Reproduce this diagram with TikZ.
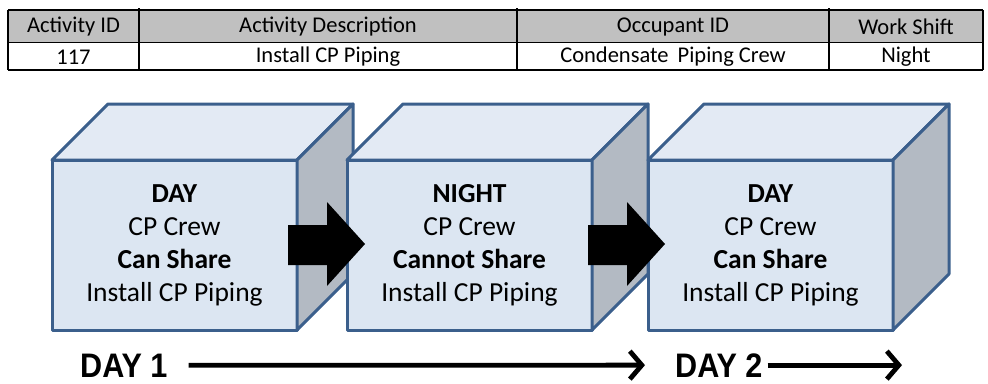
\documentclass[tikz,border=0pt]{standalone}
\usepackage{fontspec}
\setmainfont{Carlito}
\newfontfamily\arialfam[FakeStretch=0.9]{Liberation Sans}
\usetikzlibrary{arrows.meta}
\definecolor{bordc}{HTML}{3B5F8C}
\definecolor{frontc}{HTML}{DCE6F2}
\definecolor{topc}{HTML}{E3EAF4}
\definecolor{sidec}{HTML}{B3BAC3}
\definecolor{hdrgray}{HTML}{C0C0C0}
\tikzset{
  tcell/.style={inner sep=0pt, font=\fontsize{22.5}{24}\selectfont},
  tline/.style={line width=1.5pt, black},
  front/.style={draw=bordc, fill=frontc, line width=3pt, line join=round, minimum width=245pt, minimum height=170pt, inner sep=0pt, outer sep=0pt, align=center, font=\fontsize{27.5}{33}\selectfont},
  topface/.style={draw=bordc, fill=topc, line width=3pt, line join=round},
  sideface/.style={draw=bordc, fill=sidec, line width=3pt, line join=round},
  bigarrow/.style={fill=black},
  daylbl/.style={inner sep=0pt, text depth=0pt, font=\arialfam\bfseries\fontsize{34}{34}\selectfont},
  tl/.style={line width=4.8pt, -{Straight Barb[length=12pt, width=28pt]}}
}
\newcommand\mycube[3]{%
  \node[front] (#1) at (#2+122.5,245) {#3};
  \filldraw[topface] (#1.north west) -- ++(56,-56) -- ++(245,0) -- (#1.north east) -- cycle;
  \filldraw[sideface] (#1.north east) -- ++(56,-56) -- ++(0,170) -- (#1.south east) -- cycle;
}
\begin{document}
\begin{tikzpicture}[x=1pt,y=-1pt]
\useasboundingbox (0,0) rectangle (988,383);
% table
\fill[hdrgray] (8,10) rectangle (983,42);
\draw[line width=0.6pt, black] (8,42) -- (983,42);
\draw[tline] (8,10) -- (983,10);
\draw[tline] (8,70) -- (983,70);
\draw[tline] (8,10) -- (8,70);
\draw[tline] (983,10) -- (983,70);
\draw[tline] (139,8) -- (139,70);
\draw[tline] (517,8) -- (517,70);
\draw[tline] (829,8) -- (829,70);
\node[tcell] (h1) at (73.5,27) {Activity ID};
\node[tcell] (h2) at (328,27) {Activity Description};
\node[tcell] (h3) at (673,27) {Occupant ID};
\node[tcell] (h4) at (906,27) {Work Shift};
\node[tcell] (v1) at (73.5,57) {117};
\node[tcell] (v2) at (328,57) {Install CP Piping};
\node[tcell] (v3) at (673,57) {Condensate\hspace{4pt} Piping Crew};
\node[tcell] (v4) at (906,57) {Night};
% cubes
\mycube{c1}{52}{\textbf{DAY}\\CP Crew\\\textbf{Can Share}\\Install CP Piping}
\mycube{c2}{347}{\textbf{NIGHT}\\CP Crew\\\textbf{Cannot Share}\\Install CP Piping}
\mycube{c3}{648}{\textbf{DAY}\\CP Crew\\\textbf{Can Share}\\Install CP Piping}
% block arrows
\fill[bigarrow] (288,225) -- (327,225) -- (327,202) -- (365,244) -- (327,286) -- (327,265) -- (288,265) -- cycle;
\fill[bigarrow] (588,225) -- (627,225) -- (627,202) -- (665,244) -- (627,286) -- (627,265) -- (588,265) -- cycle;
% timeline
\node[daylbl, anchor=base west] (d1) at (80,377) {DAY 1};
\node[daylbl, anchor=base west] (d2) at (675,377) {DAY 2};
\coordinate (e2) at (902,367);
\draw[tl] ([xshift=21pt]d1.east) -- ([xshift=-30pt]d2.west);
\draw[tl] ([xshift=5pt]d2.east) -- (d2.east -| e2);
\end{tikzpicture}
\end{document}
